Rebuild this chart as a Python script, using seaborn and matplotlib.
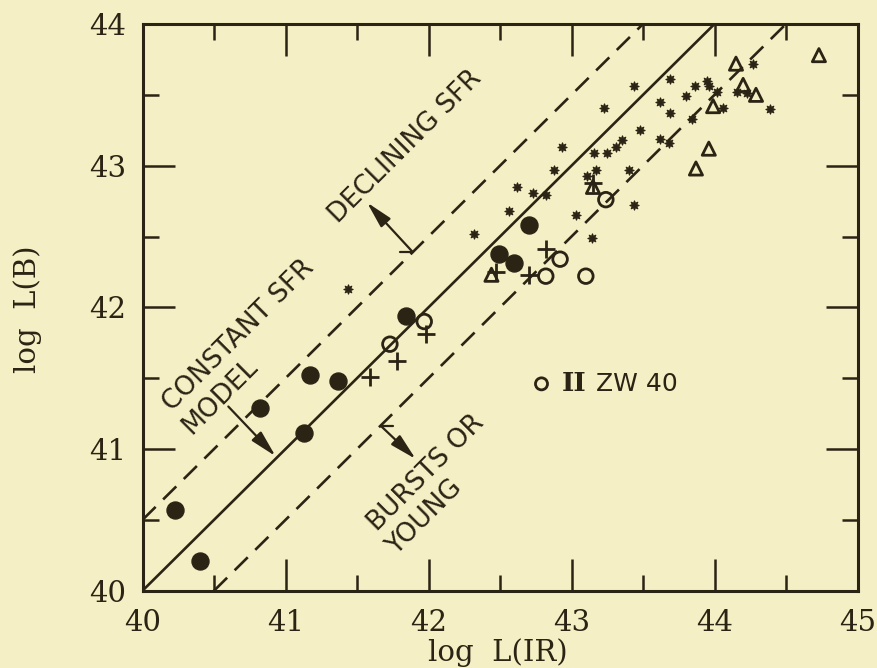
import pandas as pd
import seaborn as sns
import matplotlib.pyplot as plt
from matplotlib.ticker import MultipleLocator

sns.set_theme(style="ticks")
BG = "#f4efc4"
INK = "#2b2314"
plt.rcParams["font.family"] = ["DejaVu Serif"]

# Filled circles
filled_x = [40.23, 40.40, 40.82, 41.13, 41.17, 41.37, 41.84, 42.49, 42.60, 42.70]
filled_y = [40.57, 40.21, 41.29, 41.11, 41.52, 41.48, 41.94, 42.38, 42.31, 42.58]

# Open circles
open_x = [41.73, 41.97, 42.82, 42.92, 43.10, 43.24]
open_y = [41.74, 41.90, 42.22, 42.34, 42.22, 42.76]

# II Zw 40
zw_x = [42.79]
zw_y = [41.46]

# Crosses
cross_x = [41.59, 41.78, 41.98, 42.47, 42.70, 42.82, 43.15]
cross_y = [41.51, 41.62, 41.81, 42.25, 42.23, 42.41, 42.88]

# Open triangles
tri_x = [42.44, 43.15, 43.87, 43.96, 43.99, 44.15, 44.20, 44.29, 44.73]
tri_y = [42.23, 42.85, 42.98, 43.12, 43.42, 43.72, 43.57, 43.50, 43.78]

# Small stars
star_x = [41.44, 42.32, 42.56, 42.62, 42.73, 42.82, 42.88, 42.93, 43.03, 43.11,
          43.14, 43.16, 43.17, 43.23, 43.25, 43.31, 43.35, 43.40, 43.44, 43.44,
          43.48, 43.62, 43.62, 43.68, 43.69, 43.69, 43.80, 43.84, 43.86, 43.95,
          43.96, 44.02, 44.06, 44.16, 44.23, 44.27, 44.39]
star_y = [42.13, 42.52, 42.68, 42.85, 42.81, 42.79, 42.97, 43.13, 42.65, 42.93,
          42.49, 43.09, 42.97, 43.41, 43.09, 43.13, 43.18, 42.97, 42.72, 43.56,
          43.25, 43.45, 43.19, 43.16, 43.61, 43.37, 43.49, 43.33, 43.56, 43.60,
          43.56, 43.52, 43.41, 43.52, 43.51, 43.72, 43.40]

# model lines: log L(B) = log L(IR) + offset
offsets = [0.5, 0.0, -0.5]
styles = [(0, (7, 4)), "-", (0, (7, 4))]

fig = plt.figure(figsize=(8.77, 6.68), dpi=100, facecolor=BG)
ax = fig.add_axes([0.1625, 0.1157, 0.8153, 0.8484])
ax.set_facecolor(BG)

for off, ls in zip(offsets, styles):
    x0 = max(40, 40 - off)
    x1 = min(45, 44 - off)
    line = pd.DataFrame({"x": [x0, x1], "y": [x0 + off, x1 + off]})
    sns.lineplot(data=line, x="x", y="y", ax=ax, color=INK, lw=1.9, linestyle=ls)

sns.scatterplot(x=star_x, y=star_y, ax=ax, marker=(8, 1, 0), s=45, color=INK, edgecolor=INK, linewidth=0.8)
sns.scatterplot(x=filled_x, y=filled_y, ax=ax, marker="o", s=150, color=INK, edgecolor=INK)
sns.scatterplot(x=open_x, y=open_y, ax=ax, marker="o", s=110, facecolor="none", edgecolor=INK, linewidth=2)
sns.scatterplot(x=zw_x, y=zw_y, ax=ax, marker="o", s=75, facecolor="none", edgecolor=INK, linewidth=2)
sns.scatterplot(x=cross_x, y=cross_y, ax=ax, marker="+", s=170, color=INK, linewidth=2)
sns.scatterplot(x=tri_x, y=tri_y, ax=ax, marker="^", s=90, facecolor="none", edgecolor=INK, linewidth=2)

# labels on the diagram
sans = "DejaVu Sans"
tkw = dict(rotation=45, rotation_mode="anchor", ha="center", va="center",
           color=INK, fontsize=19, family=sans)
ax.text(41.84, 43.13, "DECLINING SFR", **tkw)
ax.text(40.67, 41.80, "CONSTANT SFR", **tkw)
ax.text(40.54, 41.37, "MODEL", **tkw)
ax.text(41.98, 40.83, "BURSTS OR", **tkw)
ax.text(41.97, 40.52, "YOUNG", **tkw)
ax.text(42.93, 41.46, "II", ha="left", va="center", color=INK, fontsize=19,
        family="DejaVu Serif", fontweight="bold")
ax.text(43.17, 41.46, "ZW 40", ha="left", va="center", color=INK, fontsize=18, family=sans)

akw = dict(arrowstyle="-|>,head_length=0.9,head_width=0.22", color=INK, lw=1.6,
           shrinkA=0, shrinkB=0, mutation_scale=18)
ax.annotate("", xy=(41.57, 42.74), xytext=(41.89, 42.39), arrowprops=akw)
ax.plot([41.80, 41.89], [42.39, 42.39], color=INK, lw=1.6)
ax.annotate("", xy=(40.93, 40.95), xytext=(40.60, 41.30), arrowprops=akw)
ax.annotate("", xy=(41.91, 40.93), xytext=(41.67, 41.16), arrowprops=akw)
ax.plot([41.67, 41.75], [41.16, 41.16], color=INK, lw=1.6)

ax.set_xlim(40, 45)
ax.set_ylim(40, 44)
ax.xaxis.set_major_locator(MultipleLocator(1))
ax.xaxis.set_minor_locator(MultipleLocator(0.5))
ax.yaxis.set_major_locator(MultipleLocator(1))
ax.yaxis.set_minor_locator(MultipleLocator(0.5))
ax.tick_params(which="both", direction="in", top=True, right=True, color=INK,
               labelcolor=INK, width=1.8)
ax.tick_params(which="major", length=23, labelsize=21)
ax.tick_params(which="minor", length=11.5)
ax.tick_params(axis="x", pad=13)
ax.tick_params(axis="y", pad=12)
for sp in ax.spines.values():
    sp.set_color(INK)
    sp.set_linewidth(2.2)

ax.set_xlabel("log  L(IR)", fontsize=21, color=INK)
ax.set_ylabel("log  L(B)", fontsize=21, color=INK)
ax.xaxis.set_label_coords(0.497, -0.083)
ax.yaxis.set_label_coords(-0.14, 0.497)

fig.savefig("out.png", dpi=100, facecolor=BG)
